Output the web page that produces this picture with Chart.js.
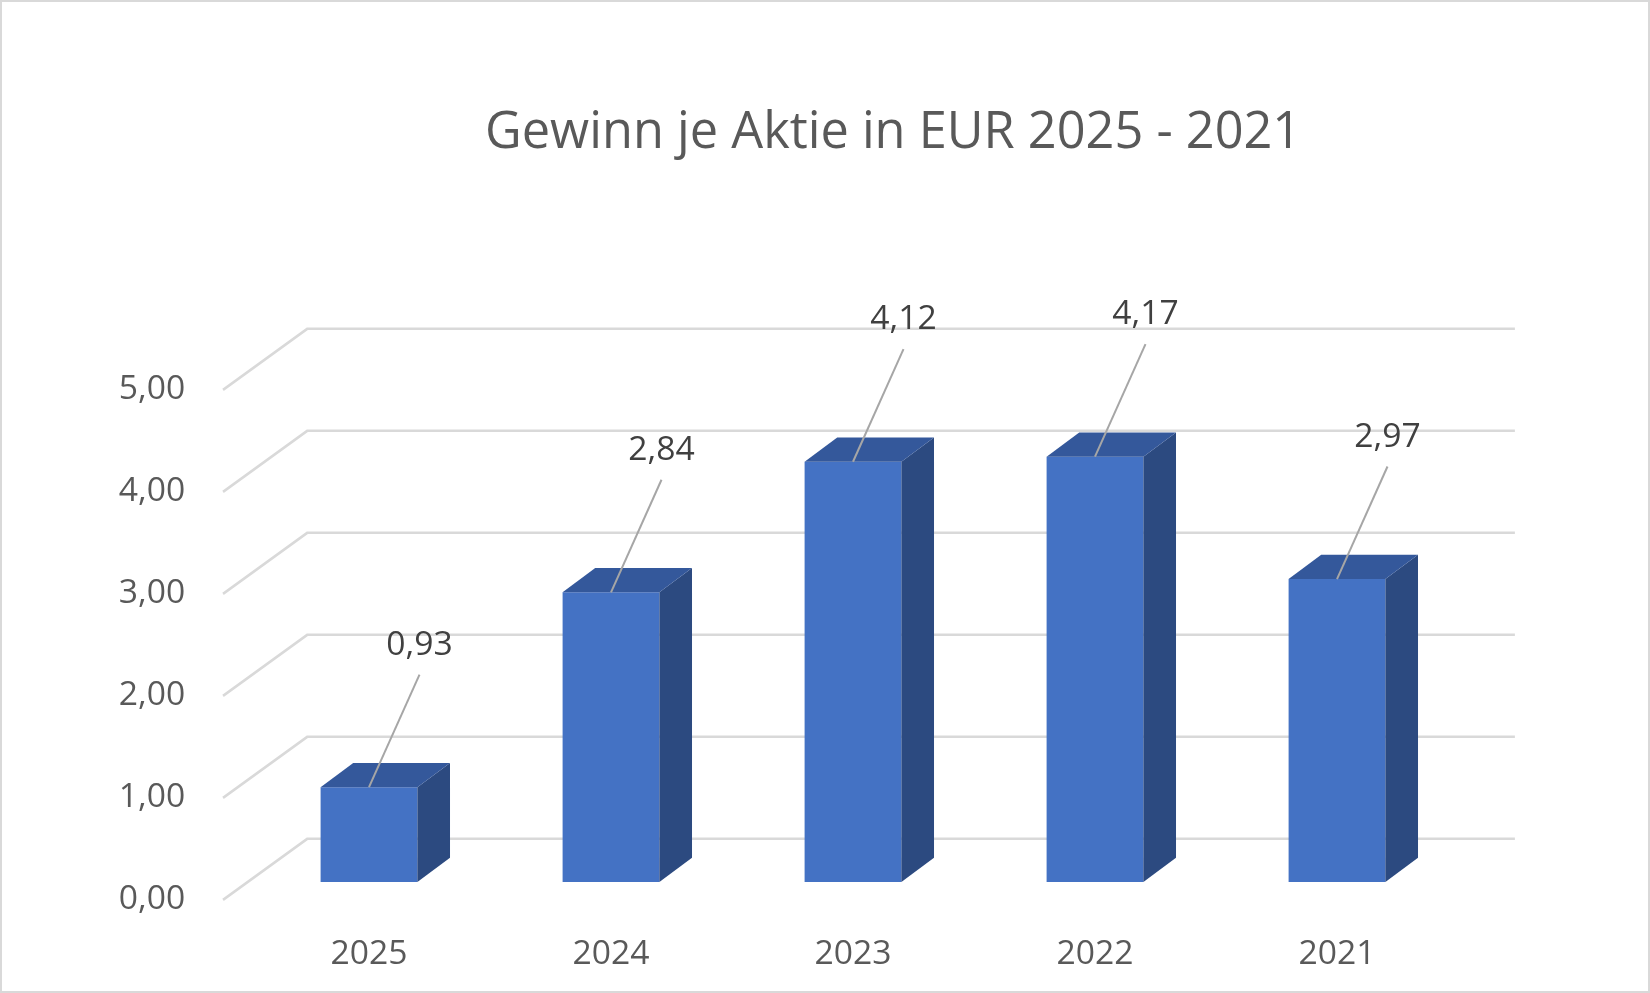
<!DOCTYPE html>
<html><head><meta charset="utf-8">
<script src="https://cdn.jsdelivr.net/npm/chart.js@4"></script>
<style>html,body{margin:0;padding:0;background:#fff}#w{width:1650px;height:993px;position:relative}</style>
</head><body><div id="w"><canvas id="c"></canvas></div>
<script>
const categories = ["2025","2024","2023","2022","2021"];
const values = [0.93, 2.84, 4.12, 4.17, 2.97];
const valueLabels = ["0,93","2,84","4,12","4,17","2,97"];
const yTicks = [0,1,2,3,4,5];
const yTickLabels = ["0,00","1,00","2,00","3,00","4,00","5,00"];
const title = "Gewinn je Aktie in EUR 2025 - 2021";
const S = 1.052;
const FONT = "'Open Sans', 'Noto Sans', sans-serif";

const deco = {
  id: 'deco',
  beforeDatasetsDraw(chart) {
    const ctx = chart.ctx, y = chart.scales.y, a = chart.chartArea;
    ctx.save();
    // border
    ctx.strokeStyle = '#d9d9d9'; ctx.lineWidth = 2;
    ctx.strokeRect(1, 1, chart.width - 2, chart.height - 2);
    // gridlines
    ctx.strokeStyle = '#d9d9d9'; ctx.lineWidth = 2.5;
    yTicks.forEach((v, i) => {
      const p = y.getPixelForValue(v);
      ctx.beginPath();
      ctx.moveTo(212 * S, p + 17 * S);
      ctx.lineTo(292 * S, p - 41 * S);
      ctx.lineTo(1440 * S, p - 41 * S);
      ctx.stroke();
      ctx.fillStyle = '#595959';
      ctx.font = `${32 * S}px ${FONT}`;
      ctx.textAlign = 'right'; ctx.textBaseline = 'middle';
      ctx.fillText(yTickLabels[i], 176 * S, p + 17 * S);
    });
    ctx.restore();
  },
  afterDatasetsDraw(chart) {
    const ctx = chart.ctx, meta = chart.getDatasetMeta(0), y = chart.scales.y;
    const dx = 31 * S, dy = -23 * S;
    ctx.save();
    meta.data.forEach((bar, i) => {
      const w = bar.width, l = bar.x - w / 2, r = bar.x + w / 2, t = bar.y, b = y.getPixelForValue(0);
      ctx.fillStyle = '#2c4a80';
      ctx.beginPath(); ctx.moveTo(r, t); ctx.lineTo(r + dx, t + dy); ctx.lineTo(r + dx, b + dy); ctx.lineTo(r, b); ctx.closePath(); ctx.fill();
      ctx.fillStyle = '#34589b';
      ctx.beginPath(); ctx.moveTo(l, t); ctx.lineTo(l + dx, t + dy); ctx.lineTo(r + dx, t + dy); ctx.lineTo(r, t); ctx.closePath(); ctx.fill();
      // leader line + label
      const lx = bar.x + 48 * S, ly = t - 135 * S;
      ctx.strokeStyle = '#a6a6a6'; ctx.lineWidth = 2;
      ctx.beginPath(); ctx.moveTo(bar.x, t); ctx.lineTo(lx, ly + 28 * S); ctx.stroke();
      ctx.fillStyle = '#404040'; ctx.font = `${32 * S}px ${FONT}`;
      ctx.textAlign = 'center'; ctx.textBaseline = 'middle';
      ctx.fillText(valueLabels[i], lx, ly);
      ctx.fillStyle = '#595959';
      ctx.fillText(categories[i], bar.x, 907 * S);
    });
    ctx.font = `${48 * S}px ${FONT}`; ctx.fillStyle = '#595959';
    ctx.fillText(title, 849 * S, 127 * S);
    ctx.restore();
  }
};

new Chart(document.getElementById('c'), {
  type: 'bar',
  data: { labels: categories, datasets: [{ data: values, backgroundColor: '#4472c4', barPercentage: 0.4, categoryPercentage: 1 }] },
  options: {
    responsive: true, maintainAspectRatio: false, animation: false,
    layout: { padding: { left: 248, right: 192, top: 372, bottom: 111 } },
    plugins: { legend: { display: false }, tooltip: { enabled: false }, title: { display: false } },
    scales: {
      x: { display: false },
      y: { display: false, min: 0, max: 5 }
    }
  },
  plugins: [deco]
});
</script></body></html>
